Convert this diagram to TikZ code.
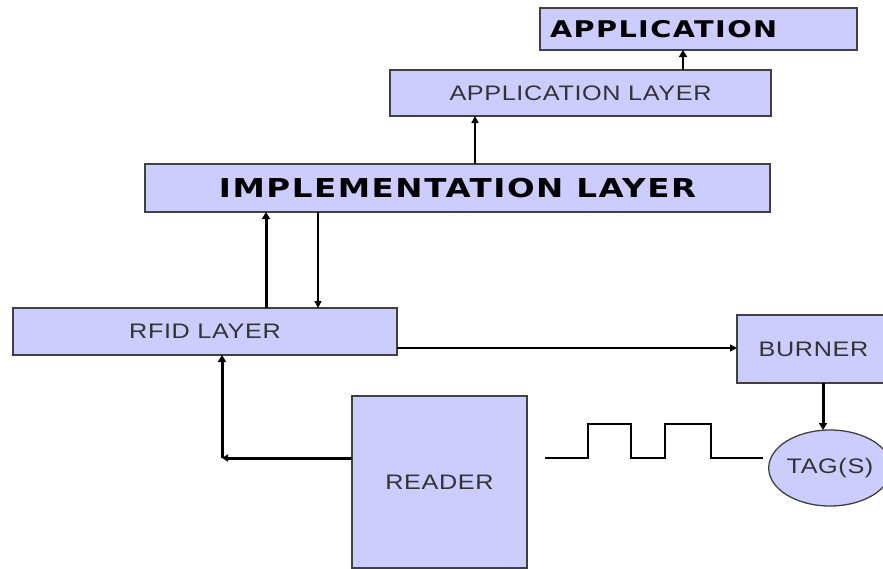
\documentclass[tikz,border=0pt]{standalone}
\usepackage{fontspec}
\usetikzlibrary{arrows.meta,shapes.geometric}
\newfontfamily\plainface[FakeStretch=1.2,LetterSpace=3]{Liberation Sans}
\newfontfamily\heavyface[FakeStretch=1.25,LetterSpace=6]{DejaVu Sans}
\definecolor{boxfill}{HTML}{CCCCFF}
\definecolor{edgegray}{HTML}{404040}
\definecolor{inkgray}{HTML}{333333}
\tikzset{
  block/.style={draw=edgegray, line width=1.3pt, fill=boxfill, inner sep=0pt, outer sep=0pt},
  plaintext/.style={font=\plainface\fontsize{21}{25}\selectfont, text=inkgray},
  heavytext/.style={font=\heavyface\bfseries\fontsize{#1}{#1}\selectfont, text=black},
  thinarrow/.style={line width=1.4pt, draw=black, -{Triangle[length=7pt,width=7pt]}},
  thickarrow/.style={line width=3pt, draw=black, -{Triangle[length=7pt,width=8pt]}},
  signal/.style={line width=1.4pt, draw=black}
}
\begin{document}
\begin{tikzpicture}[x=1pt,y=-1pt]
\useasboundingbox (0,0) rectangle (883,568);

% boxes
\node[block, heavytext=23, minimum width=307pt, minimum height=42pt,
      text width=297pt, inner xsep=10pt, align=left] (app) at (698.5,29) {APPLICATION};
\node[block, plaintext, minimum width=381pt, minimum height=46pt] (applayer) at (580.5,93) {APPLICATION LAYER};
\node[block, heavytext=26, minimum width=625pt, minimum height=48pt] (impl) at (457.5,188) {IMPLEMENTATION LAYER};
\node[block, plaintext, minimum width=384pt, minimum height=47pt] (rfid) at (205,331.5) {RFID LAYER};
\node[block, plaintext, minimum width=150pt, minimum height=68pt] (burner) at (812,349) {\hspace*{3pt}BURNER};
\node[block, ellipse, plaintext, minimum width=102pt, minimum height=76pt] (tag) at (830,468) {TAG(S)};
\node[block, plaintext, minimum width=175pt, minimum height=172pt] (reader) at (439.5,482) {READER};

% connectors
\coordinate (bend) at (222,458);
\draw[thickarrow, line width=2.4pt] (applayer.north -| 683,0) -- (app.south -| 683,0);
\draw[thinarrow] (impl.north -| 475,0) -- (applayer.south -| 475,0);
\draw[thickarrow] (rfid.north -| 266,0) -- (impl.south -| 266,0);
\draw[thinarrow] (impl.south -| 318,0) -- (rfid.north -| 318,0);
\draw[thinarrow] (rfid.east |- 0,348) -- (burner.west |- 0,348);
\draw[thickarrow] (burner.south -| 823,0) -- (tag.north -| 823,0);
\draw[thickarrow, -{Triangle[length=6pt,width=7pt]}] (reader.west |- bend) -- (bend);
\draw[thickarrow] (bend) -- (rfid.south -| bend);

% pulse train between reader and tag
\draw[signal] (545,458) -- (588,458) -- (588,424) -- (631,424) -- (631,458)
  -- (665,458) -- (665,424) -- (711,424) -- (711,458) -- (763,458);
\end{tikzpicture}
\end{document}
